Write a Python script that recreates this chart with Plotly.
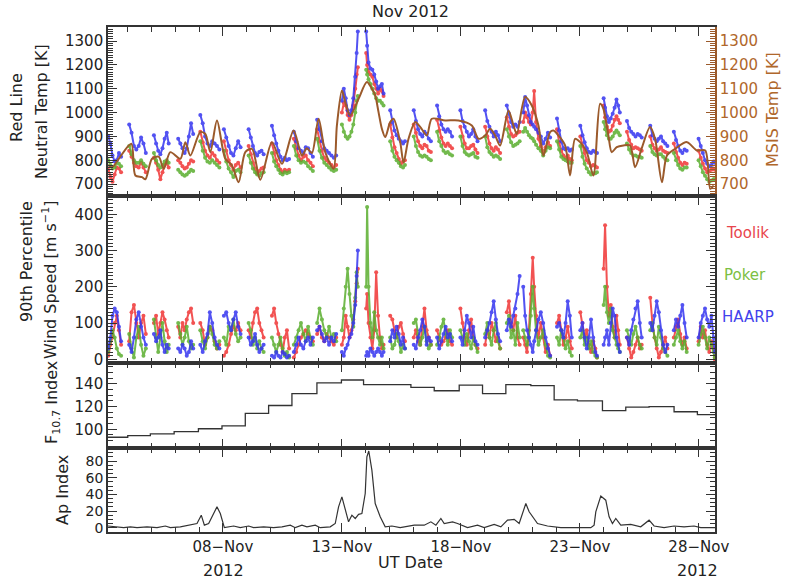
import plotly.graph_objects as go

# ---------------- DATA ----------------
# Night-time observation times, day of November 2012 (UT)
obs_time = [
    3.18, 3.27, 3.36, 3.45, 3.54, 3.63, 3.72,
    4.06, 4.16, 4.26, 4.36, 4.46, 4.56, 4.66, 4.76,
    5.10, 5.19, 5.28, 5.37, 5.46, 5.55, 5.64, 5.72,
    6.12, 6.21, 6.30, 6.39, 6.48, 6.57, 6.66, 6.75,
    7.05, 7.15, 7.25, 7.35, 7.45, 7.55, 7.65, 7.75, 7.85,
    8.04, 8.14, 8.24, 8.34, 8.44, 8.54, 8.64, 8.74,
    9.08, 9.17, 9.26, 9.35, 9.44, 9.53, 9.62, 9.71,
    10.06, 10.15, 10.24, 10.33, 10.42, 10.51, 10.60, 10.69, 10.78,
    10.98, 11.08, 11.18, 11.28, 11.38, 11.48, 11.58, 11.68, 11.78,
    11.96, 12.06, 12.16, 12.26, 12.36, 12.46, 12.56, 12.66, 12.76,
    13.00, 13.08, 13.16, 13.24, 13.32, 13.40, 13.48, 13.56, 13.62, 13.67,
    14.02, 14.06, 14.12, 14.20, 14.28, 14.36, 14.44, 14.52, 14.60, 14.68, 14.75,
    15.03, 15.12, 15.21, 15.30, 15.39, 15.48, 15.57, 15.65,
    16.02, 16.11, 16.20, 16.29, 16.38, 16.47, 16.56, 16.65, 16.74,
    17.00, 17.09, 17.18, 17.27, 17.36, 17.45, 17.54, 17.63,
    17.98, 18.07, 18.16, 18.25, 18.34, 18.43, 18.52, 18.61, 18.70,
    19.02, 19.11, 19.20, 19.29, 19.38, 19.47, 19.56, 19.65,
    19.93, 20.02, 20.11, 20.20, 20.29, 20.38, 20.47,
    20.62, 20.70, 20.78, 20.86, 20.94, 21.02, 21.08, 21.16, 21.26, 21.36, 21.46, 21.56, 21.66, 21.75,
    22.04, 22.13, 22.22, 22.31, 22.40, 22.49, 22.58, 22.66,
    23.02, 23.11, 23.20, 23.29, 23.38, 23.47, 23.56, 23.65, 23.72,
    24.00, 24.06, 24.14, 24.22, 24.30, 24.38, 24.46, 24.54, 24.61, 24.68,
    24.98, 25.07, 25.16, 25.25, 25.34, 25.43, 25.52, 25.60,
    25.96, 26.05, 26.14, 26.23, 26.32, 26.41, 26.50, 26.59, 26.68,
    26.95, 27.04, 27.13, 27.22, 27.31, 27.40, 27.49,
    27.99, 28.08, 28.17, 28.26, 28.35, 28.44, 28.53, 28.62, 28.67,
]

toolik_temp = [
    760, 730, 710, 740, 770, 765, 750,
    840, 815, 790, 775, 770, 790, 770, 750,
    810, 790, 760, 720, 750, 780, 790, 770,
    800, 790, 775, 765, 770, 785, 800, 795,
    920, 875, 840, 820, 810, 830, 820, 800, 790,
    880, 840, 800, 780, 760, 780, 790, 770,
    860, 825, 790, 765, 745, 755, 765, 770,
    870, 830, 800, 780, 760, 750, 760, 755, 760,
    890, 850, 820, 800, 815, 820, 800, 790, 775,
    930, 880, 840, 810, 800, 790, 780, 770, 780,
    1000, 1040, 1030, 990, 970, 990, 1030, 1100, 1160, 1190,
    1250, 1200, 1170, 1160, 1150, 1120, 1100, 1080, 1100, 1090, 1070,
    950, 895, 855, 830, 805, 785, 795, 800,
    950, 915, 880, 860, 850, 865, 860, 840, 835,
    970, 925, 895, 870, 860, 870, 860, 850,
    940, 900, 870, 850, 850, 860, 865, 845, 830,
    940, 900, 870, 850, 840, 855, 845, 830,
    980, 940, 910, 900, 905, 915, 920,
    960, 1000, 980, 960, 950, 1000, 1090, 960, 890, 860, 835, 855, 875, 860,
    930, 875, 840, 820, 810, 820, 805, 800,
    900, 860, 830, 800, 790, 775, 780, 775, 770,
    1030, 980, 940, 920, 925, 945, 970, 985, 970, 955,
    920, 885, 865, 850, 855, 850, 845, 840,
    900, 865, 850, 840, 845, 855, 840, 835, 830,
    870, 835, 810, 790, 780, 790, 785,
    840, 810, 785, 765, 750, 755, 760, 765, 760,
]

poker_temp = [
    800, 780, 765, 770, 790, 785, 775,
    860, 825, 800, 790, 790, 800, 785, 775,
    830, 800, 780, 770, 780, 795, 800, 790,
    760, 750, 740, 735, 740, 750, 760, 755,
    880, 840, 810, 795, 790, 800, 790, 780, 770,
    840, 795, 765, 750, 730, 755, 760, 750,
    820, 790, 765, 750, 740, 735, 745, 750,
    830, 795, 775, 760, 745, 740, 750, 745, 750,
    860, 820, 800, 790, 795, 790, 775, 765, 755,
    890, 840, 810, 790, 780, 770, 760, 755, 760,
    950, 920, 900, 890, 900, 920, 950, 1000, 1050, 1070,
    1180, 1160, 1140, 1120, 1100, 1080, 1060, 1050, 1050, 1040, 1030,
    880, 840, 815, 800, 790, 775, 770, 780,
    900, 860, 835, 820, 815, 820, 815, 805, 800,
    920, 880, 860, 840, 830, 835, 825, 820,
    900, 860, 835, 825, 820, 825, 830, 815, 810,
    900, 855, 835, 825, 815, 820, 815, 805,
    930, 900, 875, 860, 865, 870, 880,
    920, 935, 920, 905, 895, 890, 880, 865, 850, 840, 820, 840, 855, 850,
    880, 845, 815, 805, 800, 795, 790, 790,
    860, 815, 785, 765, 750, 740, 745, 745, 750,
    960, 930, 905, 890, 890, 900, 915, 925, 915, 905,
    870, 845, 830, 820, 820, 815, 815, 810,
    860, 835, 825, 820, 825, 825, 815, 805, 800,
    830, 800, 780, 765, 760, 770, 770,
    800, 775, 750, 735, 720, 710, 715, 720, 720,
]

haarp_temp = [
    900, 870, 820, 795, 800, 830, 815,
    950, 915, 860, 845, 860, 895, 870, 830,
    905, 870, 840, 825, 850, 890, 915, 870,
    890, 870, 850, 830, 850, 900, 955, 910,
    990, 955, 900, 870, 860, 880, 870, 860, 845,
    930, 895, 860, 830, 820, 850, 880, 855,
    930, 895, 860, 830, 820, 835, 840, 825,
    945, 905, 870, 840, 815, 800, 810, 800, 805,
    920, 880, 850, 840, 830, 855, 850, 830, 815,
    970, 930, 880, 850, 840, 830, 820, 810, 820,
    1050, 1100, 1060, 1010, 990, 1010, 1060, 1150, 1250, 1340,
    1340, 1280, 1210, 1185, 1180, 1160, 1130, 1100, 1110, 1120, 1080,
    1010, 960, 925, 905, 890, 880, 870, 880,
    1010, 965, 930, 910, 900, 920, 910, 890, 880,
    1030, 985, 950, 930, 920, 930, 920, 900,
    1010, 965, 940, 920, 900, 910, 930, 900, 880,
    1010, 965, 940, 920, 900, 920, 905, 880,
    1030, 995, 960, 940, 950, 940, 960,
    1000, 1065, 1030, 990, 960, 950, 940, 930, 915, 900, 870, 890, 915, 895,
    975, 925, 880, 850, 845, 850, 840, 845,
    945, 905, 875, 850, 835, 830, 840, 835, 830,
    1060, 1020, 985, 960, 975, 995, 1020, 1055, 1030, 1000,
    965, 935, 920, 910, 900, 910, 905, 895,
    945, 905, 890, 880, 890, 900, 880, 870, 860,
    920, 885, 860, 840, 830, 845, 840,
    890, 860, 830, 800, 785, 775, 780, 795, 790,
]

toolik_wind = [
    10, 40, 60, 100, 120, 80, 40,
    50, 130, 150, 100, 60, 100, 120, 70,
    100, 120, 70, 100, 130, 110, 80, 60,
    90, 60, 100, 80, 110, 130, 140, 100,
    100, 80, 40, 60, 90, 80, 50, 30, 40,
    10, 20, 40, 70, 90, 80, 100, 80,
    80, 60, 100, 130, 140, 100, 80, 60,
    120, 140, 100, 70, 40, 20, 60, 80, 30,
    5, 20, 40, 60, 70, 80, 70, 60, 50,
    70, 90, 60, 50, 70, 60, 50, 40, 60,
    40, 60, 120, 90, 60, 80, 110, 160, 210, 250,
    140, 180, 100, 60, 30, 80, 240, 120, 60, 30, 40,
    120, 110, 80, 60, 90, 100, 70, 50,
    60, 80, 50, 40, 90, 140, 80, 60, 40,
    80, 60, 40, 50, 60, 80, 50, 40,
    140, 100, 60, 40, 80, 110, 60, 40, 30,
    40, 80, 60, 100, 80, 50, 60, 30,
    130, 160, 100, 80, 120, 60, 40,
    60, 40, 20, 80, 180, 280, 200, 120, 60, 100, 60, 20, 40, 10,
    100, 120, 80, 40, 60, 90, 50, 30,
    130, 100, 60, 80, 40, 20, 50, 30, 5,
    250, 370, 200, 120, 150, 90, 60, 120, 80, 40,
    60, 30, 5, 20, 40, 60, 30, 40,
    170, 100, 60, 30, 5, 20, 40, 60, 30,
    60, 90, 110, 70, 40, 60, 30,
    50, 90, 60, 80, 40, 20, 50, 30, 0,
]

poker_wind = [
    20, 50, 80, 60, 30, 15, 10,
    70, 30, 5, 60, 90, 40, 10, 30,
    110, 60, 20, 60, 100, 50, 20, 40,
    100, 70, 40, 60, 90, 50, 30, 40,
    80, 50, 30, 60, 90, 70, 40, 30, 50,
    60, 40, 90, 80, 110, 70, 50, 60,
    100, 80, 40, 60, 30, 50, 30, 20,
    60, 40, 20, 40, 60, 30, 10, 20, 5,
    40, 60, 80, 100, 70, 50, 90, 60, 40,
    100, 140, 110, 80, 60, 90, 60, 70, 50,
    80, 140, 200, 250, 180, 120, 90, 170, 240, 200,
    200, 420, 200, 100, 60, 130, 80, 60, 40, 60, 30,
    60, 30, 40, 70, 50, 20, 40, 30,
    100, 110, 70, 40, 60, 90, 50, 30, 40,
    40, 60, 90, 110, 70, 40, 80, 60,
    80, 60, 40, 70, 50, 30, 60, 40, 20,
    70, 100, 60, 40, 80, 100, 50, 30,
    100, 120, 60, 80, 40, 100, 60,
    80, 60, 40, 60, 120, 200, 140, 80, 40, 60, 80, 40, 10, 5,
    60, 40, 80, 60, 30, 50, 20, 10,
    60, 80, 40, 60, 30, 50, 20, 10, 5,
    150, 200, 130, 100, 140, 80, 60, 40, 30, 20,
    80, 60, 40, 70, 90, 60, 40, 30,
    80, 100, 60, 40, 90, 60, 30, 20, 10,
    40, 60, 80, 50, 30, 50, 20,
    40, 70, 90, 60, 30, 60, 40, 20, 5,
]

haarp_wind = [
    30, 60, 120, 140, 130, 90, 50,
    40, 20, 60, 110, 130, 90, 60, 40,
    70, 50, 60, 80, 40, 20, 40, 30,
    30, 20, 40, 30, 10, 20, 50, 30,
    40, 20, 50, 70, 130, 100, 60, 40, 30,
    120, 130, 100, 80, 110, 130, 90, 70,
    60, 40, 50, 70, 40, 20, 30, 40,
    10, 5, 20, 10, 5, 20, 15, 5, 10,
    20, 40, 60, 40, 30, 50, 60, 40, 60,
    80, 90, 70, 50, 60, 40, 60, 50, 70,
    20, 10, 30, 40, 60, 70, 100, 150, 230, 300,
    10, 20, 10, 30, 20, 10, 20, 30, 20, 10, 20,
    50, 80, 60, 90, 70, 40, 60, 30,
    40, 30, 60, 80, 110, 90, 40, 60, 50,
    60, 30, 50, 70, 90, 60, 70, 50,
    60, 40, 80, 120, 100, 60, 90, 50, 40,
    60, 80, 100, 130, 160, 110, 70, 50,
    80, 110, 90, 120, 140, 180, 230,
    200, 120, 80, 60, 40, 20, 50, 80, 110, 130, 100, 60, 30, 10,
    90, 100, 80, 60, 100, 160, 120, 60,
    80, 100, 60, 30, 60, 110, 60, 20, 10,
    40, 60, 80, 40, 100, 140, 120, 60, 40, 20,
    60, 40, 80, 110, 140, 160, 100, 60,
    100, 80, 120, 160, 130, 80, 40, 20, 40,
    80, 110, 90, 120, 150, 100, 60,
    60, 100, 120, 140, 110, 90, 120, 60, 20,
]

# MSIS model temperature
msis_time = [3.17, 3.34, 3.62, 4.15, 4.32, 4.60, 4.74, 5.02, 5.30, 5.51, 5.79, 6.21, 6.42, 6.63,
             7.05, 7.26, 7.47, 7.75, 8.10, 8.38, 8.66, 8.94, 9.22, 9.57, 10.06, 10.48, 10.97,
             11.32, 11.53, 11.74, 12.02, 12.30, 12.65, 12.79, 13.00, 13.14, 13.35, 13.70, 14.05,
             14.26, 14.40, 14.54, 14.68, 14.82, 15.03, 15.17, 15.45, 15.59, 15.80, 16.08, 16.29,
             16.57, 16.78, 17.34, 17.90, 18.46, 18.74, 19.02, 19.23, 19.44, 19.65, 20.00, 20.21,
             20.35, 20.70, 20.98, 21.26, 21.47, 21.75, 21.89, 22.10, 22.38, 22.59, 22.80, 23.01,
             23.29, 23.57, 23.85, 23.99, 24.20, 24.34, 24.55, 24.83, 25.11, 25.32, 25.60, 25.95,
             26.16, 26.45, 26.66, 27.01, 27.50, 27.92, 28.27, 28.48, 28.62]
msis_temp = [780, 770, 806, 869, 736, 729, 720, 806, 815, 764, 834, 806, 876, 820,
             918, 910, 834, 967, 806, 778, 708, 834, 848, 718, 876, 785, 925,
             820, 850, 830, 974, 834, 764, 946, 1093, 1044, 988, 1058, 1128,
             1100, 1072, 1002, 932, 897, 960, 974, 876, 790, 890, 960, 940,
             904, 974, 967, 967, 946, 890, 904, 932, 904, 862, 1009, 946,
             910, 1065, 1030, 946, 820, 918, 925, 904, 862, 736, 890, 876,
             834, 736, 1037, 1016, 904, 834, 855, 862, 862, 771, 850, 939,
             890, 708, 820, 848, 876, 841, 841, 680, 694]

# F10.7 daily solar flux (step function)
f107_time = [3.17, 4.00, 4.95, 5.95, 6.97, 7.96, 8.94, 9.92, 10.90, 11.95, 12.98, 13.91, 15.90,
             16.88, 17.93, 18.91, 19.89, 20.94, 21.92, 22.90, 23.95, 24.93, 25.91, 26.96, 27.94, 28.68]
f107_value = [93, 94.5, 96, 98, 100.5, 103, 114, 121, 131.5, 141, 143.5, 139.5, 137,
              134, 139, 131.5, 139.5, 138.5, 126, 125, 116.5, 119.5, 120, 115.5, 113, 113]

# Ap geomagnetic index
ap_time = [3.17, 3.48, 3.83, 4.11, 4.39, 4.81, 5.23, 5.58, 5.79, 6.21, 6.63, 6.91, 7.09, 7.22,
           7.40, 7.75, 7.89, 8.06, 8.45, 8.73, 9.08, 9.29, 9.71, 10.13, 10.48, 10.83, 11.04,
           11.32, 11.53, 11.88, 12.09, 12.51, 12.72, 12.86, 13.00, 13.14, 13.28, 13.42, 13.56,
           13.70, 13.84, 13.98, 14.05, 14.13, 14.26, 14.40, 14.61, 14.82, 15.10, 15.45, 16.04,
           16.46, 16.74, 16.95, 17.16, 17.30, 17.65, 17.86, 18.28, 18.70, 18.98, 19.40, 19.68,
           19.96, 20.24, 20.45, 20.73, 20.87, 21.22, 21.64, 22.20, 22.90, 23.46, 23.60, 23.67,
           23.88, 24.09, 24.23, 24.37, 24.51, 24.72, 25.14, 25.56, 25.91, 26.12, 26.54, 26.96,
           27.38, 27.80, 28.08, 28.57, 28.68]
ap_value = [2, 1, 0, 1, 0, 1, 0, 2, 0, 1, 3, 5, 15, 3, 5, 25, 17, 0, 2, 0, 2, 0, 1, 0, 1, 3, 0,
            3, 1, 3, 0, 1, 5, 25, 37, 21, 7, 15, 11, 16, 17, 41, 85, 92, 69, 29, 13, 1, 2, 0,
            3, 3, 7, 3, 11, 5, 7, 5, 0, 3, 0, 4, 1, 9, 10, 5, 29, 19, 5, 2, 0, 0, 0, 3, 19, 38,
            33, 13, 5, 11, 3, 4, 1, 9, 2, 0, 2, 1, 2, 0, 0, 0]

date_ticks = [8, 13, 18, 23, 28]
date_labels = ["08\u2212Nov", "13\u2212Nov", "18\u2212Nov", "23\u2212Nov", "28\u2212Nov"]

# ---------------- STYLE ----------------
RED, GREEN, BLUE = "#f03535", "#5aae2e", "#3434f0"
BROWN, BROWN_TXT = "#9b5a2b", "#b0672b"
FRAME = "#333333"
FONT = "DejaVu Sans"
W, H = 786, 579
# plot-area edges in window pixels
L, R, T, B = 108, 715, 27, 532


def px(x):
    return (x - L) / (R - L)


def py(y):
    return (B - y) / (B - T)


def gapped(t, v, maxgap=0.12):
    xs, ys = [], []
    for i, (a, b) in enumerate(zip(t, v)):
        if i > 0 and a - t[i - 1] > maxgap:
            xs.append(None)
            ys.append(None)
        xs.append(a)
        ys.append(b)
    return xs, ys


fig = go.Figure()

stations = [("Toolik", toolik_temp, toolik_wind, RED),
            ("Poker", poker_temp, poker_wind, GREEN),
            ("HAARP", haarp_temp, haarp_wind, BLUE)]

for name, temp, wind, col in stations:
    for vals, xa, ya in ((temp, "x", "y"), (wind, "x2", "y2")):
        xs, ys = gapped(obs_time, vals)
        fig.add_trace(go.Scatter(x=xs, y=ys, mode="lines+markers", name=name, showlegend=False,
                                 opacity=0.85,
                                 line=dict(color=col, width=2.0), marker=dict(color=col, size=4),
                                 xaxis=xa, yaxis=ya))

fig.add_trace(go.Scatter(x=msis_time, y=msis_temp, mode="lines", showlegend=False,
                         line=dict(color=BROWN, width=2, shape="spline", smoothing=0.8),
                         xaxis="x", yaxis="y5"))
fig.add_trace(go.Scatter(x=f107_time, y=f107_value, mode="lines", showlegend=False,
                         line=dict(color="#333333", width=1.3, shape="hv"),
                         xaxis="x3", yaxis="y3"))
fig.add_trace(go.Scatter(x=ap_time, y=ap_value, mode="lines", showlegend=False,
                         line=dict(color="#333333", width=1.2),
                         xaxis="x4", yaxis="y4"))


def tf(size, color="#222222"):
    return dict(family=FONT, size=size, color=color)


xrange_ = [3.17, 28.68]


def xaxis(anchor, labels):
    return dict(anchor=anchor, domain=[0, 1], range=xrange_, tickmode="array",
                tickvals=date_ticks, ticktext=date_labels, showticklabels=labels,
                ticks="inside", ticklen=9, tickwidth=1.3, tickcolor=FRAME,
                minor=dict(ticks="inside", ticklen=5, tickwidth=1.1, tickcolor=FRAME,
                           tickmode="linear", tick0=8, dtick=1),
                showline=True, linewidth=1.6, linecolor=FRAME, mirror="ticks",
                showgrid=False, zeroline=False, tickfont=tf(15), automargin=False)


def yaxis(domain, rng, dtick, mdtick, tick0, size, mirror=True):
    return dict(domain=domain, range=rng, tick0=tick0, dtick=dtick,
                ticks="inside", ticklen=9, tickwidth=1.3, tickcolor=FRAME,
                minor=dict(ticks="inside", ticklen=5, tickwidth=1, tickcolor=FRAME, dtick=mdtick,
                           tick0=tick0),
                showline=True, linewidth=1.6, linecolor=FRAME,
                mirror="ticks" if mirror else False, automargin=False,
                showgrid=False, zeroline=False, tickfont=tf(size))


d1 = [py(196), 1]
d2 = [py(363), py(196)]
d3 = [py(448), py(363)]
d4 = [0, py(448)]

layout = dict(
    width=W, height=H,
    margin=dict(l=L, r=W - R, t=T, b=H - B, pad=0),
    paper_bgcolor="white", plot_bgcolor="white",
    font=dict(family=FONT, size=16, color="#222222"),
    xaxis=xaxis("y", False), xaxis2=xaxis("y2", False),
    xaxis3=xaxis("y3", False), xaxis4=xaxis("y4", True),
    yaxis=yaxis(d1, [650, 1359], 100, 10, 700, 15, mirror=False),
    yaxis2=yaxis(d2, [-10, 450.5], 100, 10, 0, 15),
    yaxis3=yaxis(d3, [83.5, 158.5], 20, 5, 100, 15),
    yaxis4=yaxis(d4, [-5.2, 95.6], 20, 5, 0, 14),
    yaxis5=dict(overlaying="y", side="right", anchor="x", range=[650, 1359], tick0=700, dtick=100,
                ticks="inside", ticklen=9, tickwidth=1.3, tickcolor=BROWN,
                minor=dict(ticks="inside", ticklen=5, tickwidth=1, tickcolor=BROWN, dtick=10),
                showline=True, linewidth=1.6, linecolor=BROWN, showgrid=False, zeroline=False,
                automargin=False, tickfont=tf(15, BROWN_TXT)),
    showlegend=False,
)
fig.update_layout(**layout)


def note(text, x, y, color="#222222", size=16, angle=0):
    fig.add_annotation(text=text, x=px(x), y=py(y), xref="paper", yref="paper",
                       showarrow=False, textangle=angle, xanchor="center", yanchor="middle",
                       font=tf(size, color))


note("Nov 2012", 410, 12)
note("Red Line", 16, 108, angle=-90)
note("Neutral Temp [K]", 41, 112, angle=-90)
note("90th Percentile", 26, 262, angle=-90)
note("Wind Speed [m s<sup>\u22121</sup>]", 49, 280, angle=-90)
note("F<sub>10.7</sub> Index", 52, 403, angle=-90)
note("Ap Index", 62, 490, angle=-90)
note("MSIS Temp [K]", 772, 110, color=BROWN_TXT, angle=-90)
note("Toolik", 747, 233, color="#e8454d", size=15)
note("Poker", 745, 275, color="#7cc043", size=15)
note("HAARP", 748, 317, color="#4242ec", size=15)
note("UT Date", 410, 562)
note("2012", 223, 570)
note("2012", 697, 570)

# the page is shown edge-to-edge: drop the browser's default body margin
fig.write_html("out.html", config={"displayModeBar": False},
               post_script="document.body.style.margin='0px';document.body.style.overflow='hidden';")
